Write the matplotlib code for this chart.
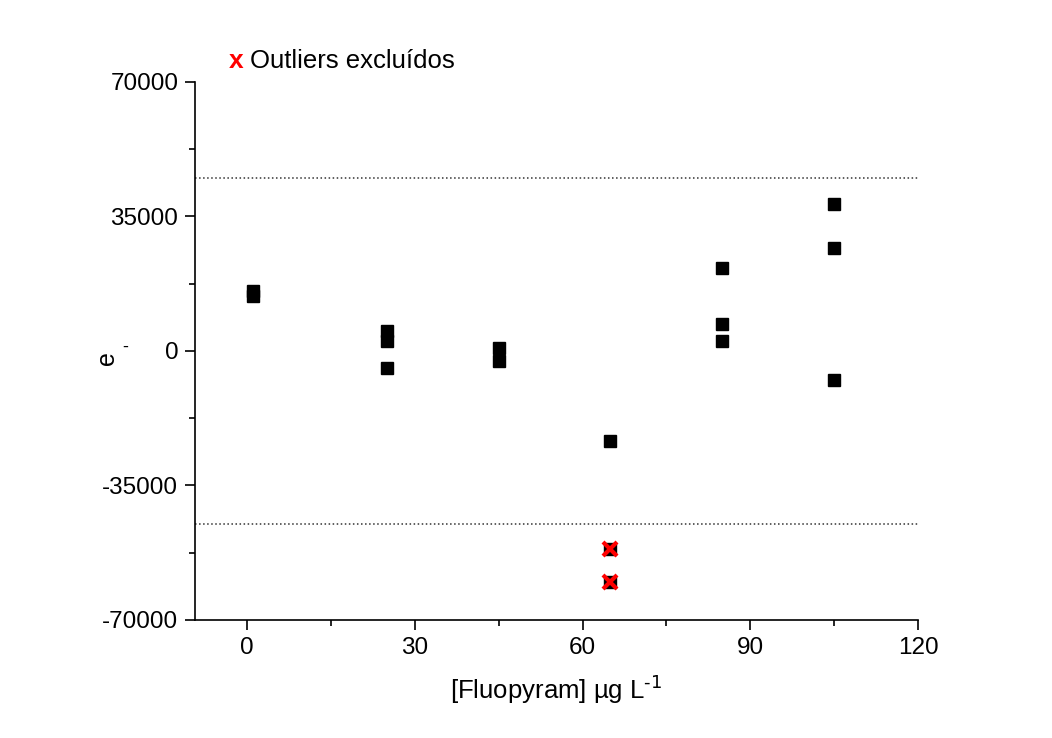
import matplotlib.pyplot as plt
from matplotlib.ticker import MultipleLocator

plt.rcParams['font.family'] = ['Liberation Sans', 'DejaVu Sans']
plt.rcParams['axes.unicode_minus'] = False

# residuals per concentration level
conc = [1, 1, 25, 25, 25, 45, 45, 65, 65, 65, 85, 85, 85, 105, 105, 105]
resid = [15700, 14200, 5100, 2700, -4550, 900, -2700, -23550, -51400, -60000,
         21500, 7000, 2600, 38200, 26900, -7550]

# excluded outliers
out_conc = [65, 65]
out_resid = [-51400, -60000]

limit = 45000

fig = plt.figure(figsize=(10.52, 7.38), dpi=100)
ax = fig.add_axes([0.1854, 0.1599, 0.6872, 0.729])

ax.plot(conc, resid, 's', color='black', markersize=8, linestyle='none', zorder=3)
ax.plot(out_conc, out_resid, 'x', color='red', markersize=10, markeredgewidth=3,
        linestyle='none', zorder=4)

ax.axhline(limit, color='#333333', linestyle=':', linewidth=1.1)
ax.axhline(-limit, color='#333333', linestyle=':', linewidth=1.1)

ax.set_xlim(-9.3, 120)
ax.set_ylim(-70000, 70000)
ax.xaxis.set_major_locator(MultipleLocator(30))
ax.xaxis.set_minor_locator(MultipleLocator(15))
ax.yaxis.set_major_locator(MultipleLocator(35000))
ax.yaxis.set_minor_locator(MultipleLocator(17500))

for s in ['top', 'right']:
    ax.spines[s].set_visible(False)
for s in ['left', 'bottom']:
    ax.spines[s].set_linewidth(1.2)

ax.tick_params(which='major', direction='out', length=7, width=1.2, labelsize=17.5, pad=5)
ax.tick_params(which='minor', direction='out', length=4, width=1.2)

ax.set_xlabel(r'[Fluopyram] µg L$^{\text{-1}}$', fontsize=18.5, labelpad=10)
fig.text(0.1017, 0.515, 'e', rotation=90, fontsize=18, ha='center', va='center')
fig.text(0.1188, 0.5298, '-', fontsize=13, ha='center', va='center')

# legend for the excluded outliers
fig.text(0.2243, 0.917, 'x', color='red', fontsize=19, fontweight='bold', ha='center', va='center')
fig.text(0.2376, 0.917, 'Outliers excluídos', fontsize=18.5, ha='left', va='center')

plt.savefig('out.png', dpi=100)
